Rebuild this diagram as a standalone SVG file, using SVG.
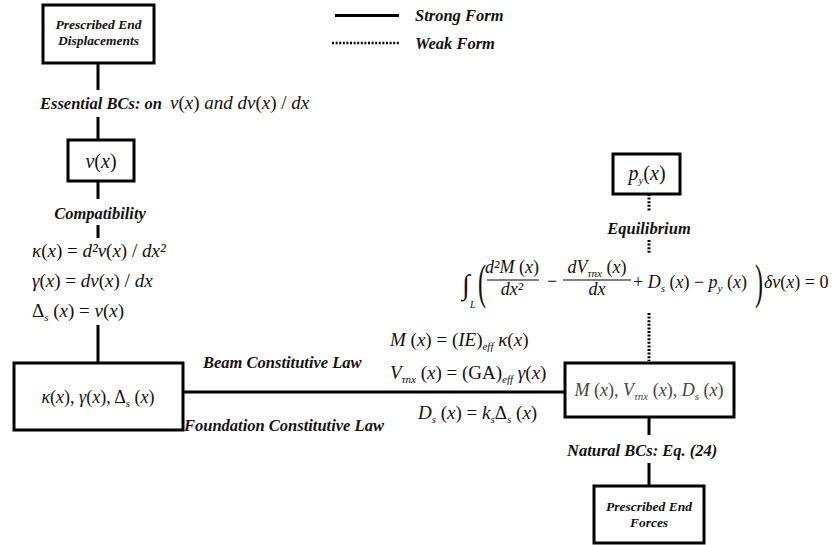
<svg xmlns="http://www.w3.org/2000/svg" width="832" height="545" viewBox="0 0 832 545" font-family="Liberation Serif, Times New Roman, DejaVu Serif, serif">
<style>
.box{fill:#fff;stroke:#000;stroke-width:3}
.ln{stroke:#000;stroke-width:3;fill:none}
.dt{stroke:#000;stroke-width:3;fill:none;stroke-dasharray:2 1.6}
.bar{stroke:#000;stroke-width:1;fill:none}
.lbl{font-weight:bold;font-style:italic;font-size:16.5px;fill:#111}
.sm{font-size:13.5px}
.m{font-style:italic;font-size:18px;fill:#111}
.up{font-style:normal}
.s{font-size:11px}
.g{fill:#444}
</style>
<rect width="832" height="545" fill="#fff"/>
<g id="connectors">
<line class="ln" x1="98" y1="63" x2="98" y2="90"/>
<line class="ln" x1="98" y1="117" x2="98" y2="140"/>
<line class="ln" x1="98" y1="181" x2="98" y2="199"/>
<line class="ln" x1="98" y1="225" x2="98" y2="238"/>
<line class="ln" x1="98" y1="325" x2="98" y2="363"/>
<line class="ln" x1="183" y1="392" x2="565" y2="392"/>
<line class="dt" x1="649" y1="194" x2="649" y2="212"/>
<line class="dt" x1="649" y1="240" x2="649" y2="254"/>
<line class="dt" x1="649" y1="313" x2="649" y2="361"/>
<line class="ln" x1="649" y1="417" x2="649" y2="435"/>
<line class="ln" x1="649" y1="463" x2="649" y2="486"/>
</g>
<g id="legend">
<line class="ln" x1="335" y1="15.5" x2="399" y2="15.5"/>
<text class="lbl" x="415" y="21">Strong Form</text>
<line class="dt" x1="332" y1="43" x2="399" y2="43" style="stroke-width:2.5"/>
<text class="lbl" x="415" y="49">Weak Form</text>
</g>
<g id="n-displacements">
<rect class="box" x="43" y="5" width="111" height="58"/>
<text class="lbl sm" x="98.5" y="29" text-anchor="middle">Prescribed End</text>
<text class="lbl sm" x="98.5" y="45" text-anchor="middle">Displacements</text>
</g>
<g id="lbl-essential">
<text class="lbl" x="40" y="109">Essential BCs: on</text>
<text class="m" x="170" y="109" style="font-size:19px">v<tspan class="up">(</tspan>x<tspan class="up">)</tspan> and dv<tspan class="up">(</tspan>x<tspan class="up">) / </tspan>dx</text>
</g>
<g id="n-v">
<rect class="box" x="68" y="140" width="66" height="41"/>
<text class="m" x="101" y="168" text-anchor="middle" style="font-size:20px">v<tspan class="up">(</tspan>x<tspan class="up">)</tspan></text>
</g>
<g id="lbl-compat">
<text class="lbl" x="100" y="219" text-anchor="middle">Compatibility</text>
<text class="m" x="32" y="257" style="font-size:19px">κ<tspan class="up">(</tspan>x<tspan class="up">) = </tspan>d²v<tspan class="up">(</tspan>x<tspan class="up">) / </tspan>dx²</text>
<text class="m" x="32" y="287" style="font-size:19px">γ<tspan class="up">(</tspan>x<tspan class="up">) = </tspan>dv<tspan class="up">(</tspan>x<tspan class="up">) / </tspan>dx</text>
<text class="m" x="32" y="317" style="font-size:19px"><tspan class="up">Δ</tspan><tspan class="s" dy="4">s</tspan><tspan class="up" dy="-4"> (</tspan>x<tspan class="up">) = </tspan>v<tspan class="up">(</tspan>x<tspan class="up">)</tspan></text>
</g>
<g id="n-strains">
<rect class="box" x="14" y="363" width="169" height="67"/>
<text class="m" x="98" y="403" text-anchor="middle">κ<tspan class="up">(</tspan>x<tspan class="up">), </tspan>γ<tspan class="up">(</tspan>x<tspan class="up">), Δ</tspan><tspan class="s" dy="4">s</tspan><tspan class="up" dy="-4"> (</tspan>x<tspan class="up">)</tspan></text>
</g>
<g id="lbl-constitutive">
<text class="lbl" x="203" y="368">Beam Constitutive Law</text>
<text class="lbl" x="184" y="431">Foundation Constitutive Law</text>
<text class="m" x="390" y="346" style="font-size:19px">M<tspan class="up"> (</tspan>x<tspan class="up">) = (</tspan>IE<tspan class="up">)</tspan><tspan class="s" dy="4">eff</tspan><tspan dy="-4"> κ</tspan><tspan class="up">(</tspan>x<tspan class="up">)</tspan></text>
<text class="m" x="390" y="379" style="font-size:19px">V<tspan class="s" dy="4">τnx</tspan><tspan class="up" dy="-4"> (</tspan>x<tspan class="up">) = (GA)</tspan><tspan class="s" dy="4">eff</tspan><tspan dy="-4"> γ</tspan><tspan class="up">(</tspan>x<tspan class="up">)</tspan></text>
<text class="m" x="418" y="419" style="font-size:19px">D<tspan class="s" dy="4">s</tspan><tspan class="up" dy="-4"> (</tspan>x<tspan class="up">) = </tspan>k<tspan class="s" dy="4">s</tspan><tspan class="up" dy="-4">Δ</tspan><tspan class="s" dy="4">s</tspan><tspan class="up" dy="-4"> (</tspan>x<tspan class="up">)</tspan></text>
</g>
<g id="n-py">
<rect class="box" x="613" y="154" width="67" height="40"/>
<text class="m" x="647" y="180" text-anchor="middle" style="font-size:20px">p<tspan class="s" dy="4">y</tspan><tspan class="up" dy="-4">(</tspan>x<tspan class="up">)</tspan></text>
</g>
<g id="lbl-equilibrium">
<text class="lbl" x="649" y="234" text-anchor="middle">Equilibrium</text>
<text class="m up" x="462" y="294" style="font-size:28px;font-style:normal">∫</text>
<text class="m" x="470" y="308" style="font-size:10px">L</text>
<text class="m up" transform="translate(478,298) scale(0.5,1)" style="font-size:48px;font-style:normal">(</text>
<text class="m" x="512" y="273" text-anchor="middle">d²M<tspan class="up"> (</tspan>x<tspan class="up">)</tspan></text>
<line class="bar" x1="487" y1="280" x2="539" y2="280"/>
<text class="m" x="512" y="295" text-anchor="middle">dx²</text>
<text class="m up" x="547" y="287" style="font-style:normal">−</text>
<text class="m" x="597" y="273" text-anchor="middle">dV<tspan class="s" dy="4">τnx</tspan><tspan class="up" dy="-4"> (</tspan>x<tspan class="up">)</tspan></text>
<line class="bar" x1="563" y1="280" x2="631" y2="280"/>
<text class="m" x="597" y="295" text-anchor="middle">dx</text>
<text class="m" x="633" y="288"><tspan class="up">+ </tspan>D<tspan class="s" dy="4">s</tspan><tspan class="up" dy="-4"> (</tspan>x<tspan class="up">) − </tspan>p<tspan class="s" dy="4">y</tspan><tspan class="up" dy="-4"> (</tspan>x<tspan class="up">)</tspan></text>
<text class="m up" transform="translate(755,298) scale(0.5,1)" style="font-size:48px;font-style:normal">)</text>
<text class="m" x="764" y="288">δv<tspan class="up">(</tspan>x<tspan class="up">) = 0</tspan></text>
</g>
<g id="n-forces">
<rect class="box" x="565" y="363" width="169" height="54"/>
<text class="m g" x="649" y="396" text-anchor="middle">M<tspan class="up"> (</tspan>x<tspan class="up">), </tspan>V<tspan class="s" dy="4">τnx</tspan><tspan class="up" dy="-4"> (</tspan>x<tspan class="up">), </tspan>D<tspan class="s" dy="4">s</tspan><tspan class="up" dy="-4"> (</tspan>x<tspan class="up">)</tspan></text>
</g>
<g id="lbl-natural">
<text class="lbl" x="567" y="456">Natural BCs: Eq. (24)</text>
</g>
<g id="n-endforces">
<rect class="box" x="594" y="486" width="110" height="57"/>
<text class="lbl sm" x="649" y="511" text-anchor="middle">Prescribed End</text>
<text class="lbl sm" x="649" y="527" text-anchor="middle">Forces</text>
</g>
</svg>
